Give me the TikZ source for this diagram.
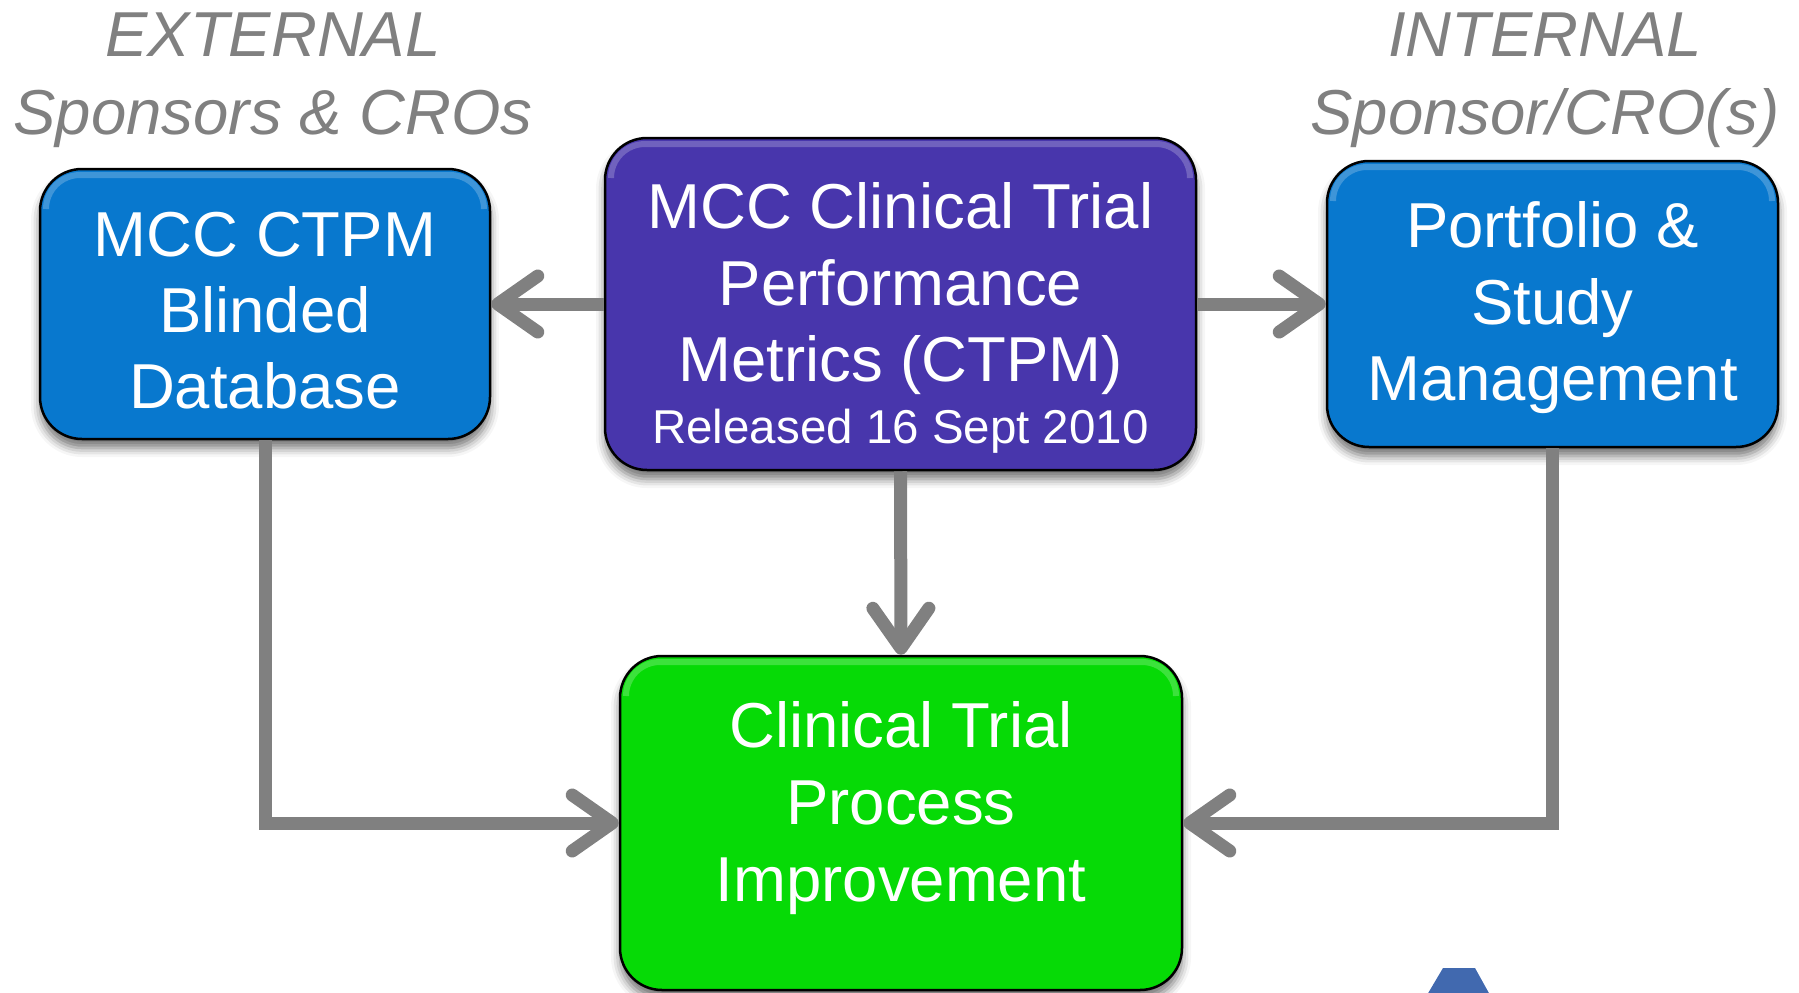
\documentclass[tikz,border=0pt]{standalone}
\usepackage{fontspec}
\setmainfont{Liberation Sans}
\usetikzlibrary{arrows.meta,shadows.blur}
\definecolor{boxblue}{HTML}{0878CE}
\definecolor{boxpurple}{HTML}{4836AC}
\definecolor{boxgreen}{HTML}{06DA06}
\definecolor{conngray}{HTML}{808080}
\definecolor{shapeblue}{HTML}{4169AF}
\begin{document}
\begin{tikzpicture}[x=1pt,y=-1pt,
  box/.style={draw=black, line width=2.5pt, rounded corners=42pt, inner sep=0pt,
    blur shadow={shadow xshift=0pt, shadow yshift=-9pt, shadow blur radius=9pt, shadow opacity=55},
    path picture={\draw[white, opacity=.22, line width=6pt, rounded corners=34pt]
      ([shift={(6pt,-40pt)}]path picture bounding box.north west) --
      ([shift={(6pt,-6pt)}]path picture bounding box.north west) --
      ([shift={(-6pt,-6pt)}]path picture bounding box.north east) --
      ([shift={(-6pt,-40pt)}]path picture bounding box.north east);}},
  big/.style={text=white, font=\fontsize{63.5}{76}\selectfont, anchor=base, inner sep=0pt},
  small/.style={text=white, font=\fontsize{47.5}{57}\selectfont, anchor=base, inner sep=0pt},
  lab/.style={text=conngray, font=\fontsize{63.5}{76}\selectfont\itshape, anchor=base, inner sep=0pt},
  conn/.style={draw=conngray, line width=13pt, line join=miter,
    -{Straight Barb[round, length=40pt, width=56pt]}}]
\useasboundingbox (0,0) rectangle (1799,993);
% boxes
\node[box, fill=boxblue, minimum width=450pt, minimum height=270pt] (db) at (265,304) {};
\node[box, fill=boxpurple, minimum width=591pt, minimum height=332pt] (ctpm) at (900.5,304) {};
\node[box, fill=boxblue, minimum width=451pt, minimum height=286pt] (psm) at (1552.5,304) {};
\node[box, fill=boxgreen, minimum width=562pt, minimum height=334pt] (cti) at (901,823) {};
% connectors
\draw[conn] (ctpm.west) -- (db.east);
\draw[conn] (ctpm.east) -- (psm.west);
\draw[conn] (ctpm.south) -- (cti.north);
\draw[conn] (db.south) |- (cti.west);
\draw[conn] (psm.south) |- (cti.east);
% texts
\node[big] (db1) at (265,256) {MCC CTPM};
\node[big] (db2) at (265,332) {Blinded};
\node[big] (db3) at (265,408) {Database};
\node[big] (ct1) at (900.5,228.5) {MCC Clinical Trial};
\node[big] (ct2) at (900.5,305) {Performance};
\node[big] (ct3) at (900.5,381) {Metrics (CTPM)};
\node[small] (ct4) at (900.5,443) {Released 16 Sept 2010};
\node[big] (ps1) at (1552.5,247) {Portfolio \&};
\node[big] (ps2) at (1552.5,324) {Study};
\node[big] (ps3) at (1552.5,400) {Management};
\node[big] (ci1) at (901,747) {Clinical Trial};
\node[big] (ci2) at (901,824) {Process};
\node[big] (ci3) at (901,901) {Improvement};
\node[lab] (ext1) at (273,56) {EXTERNAL};
\node[lab] (ext2) at (273,134) {Sponsors \& CROs};
\node[lab] (int1) at (1545,56) {INTERNAL};
\node[lab] (int2) at (1545,134) {Sponsor/CRO(s)};
% partial shape at bottom right
\fill[shapeblue] (1443,968) -- (1475,968) -- (1490,995) -- (1427,995) -- cycle;
\end{tikzpicture}
\end{document}
